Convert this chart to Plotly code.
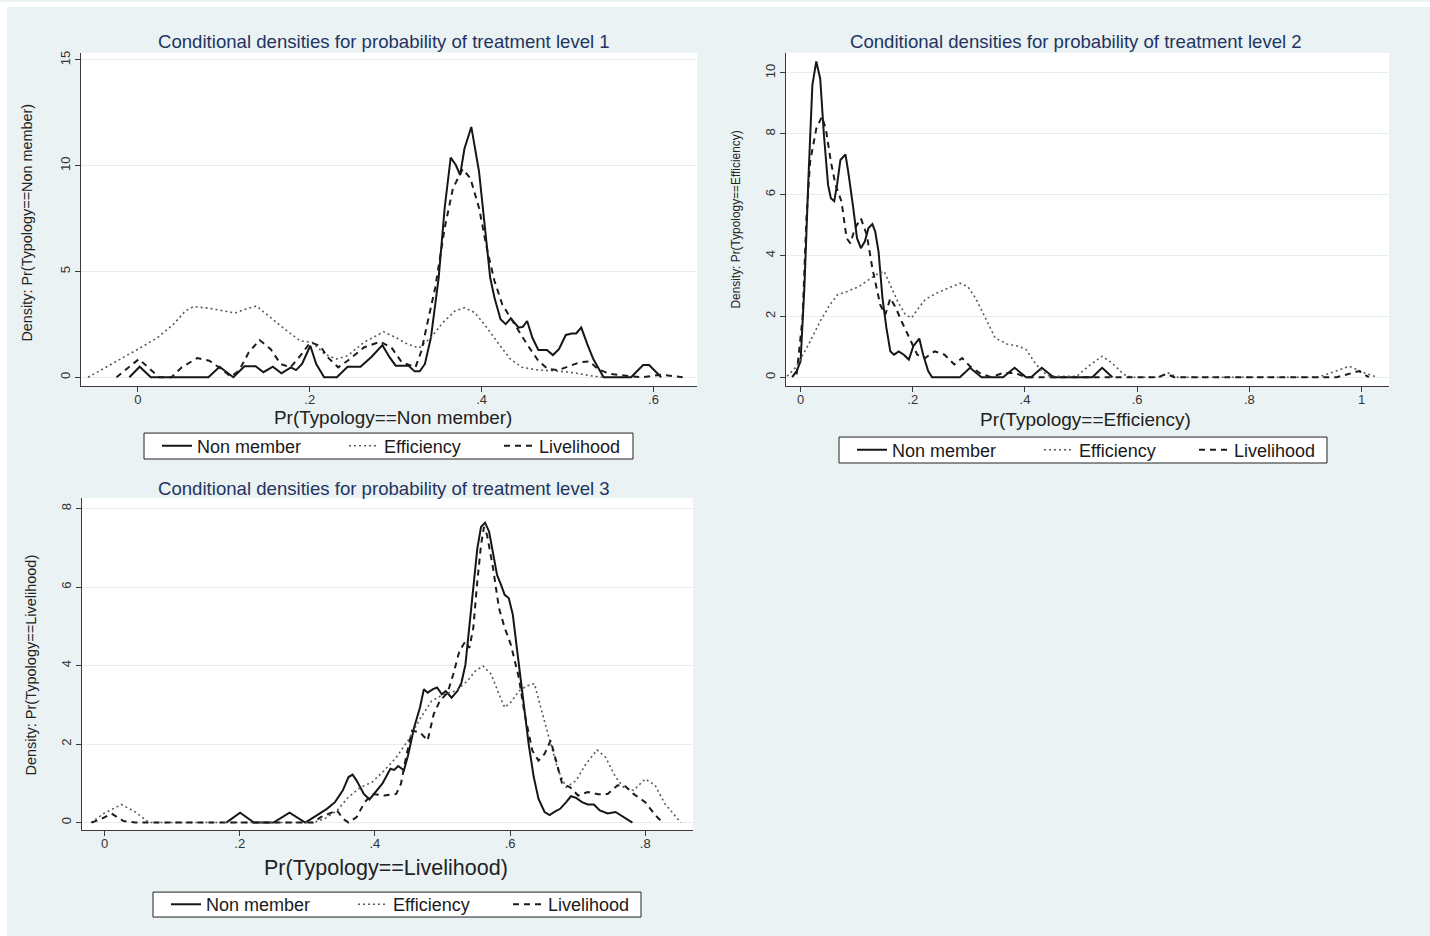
import plotly.graph_objects as go

W, H = 1430, 936
FONT = "Liberation Sans, Arial, sans-serif"

# ---- data: kernel-density curves, (probability, density) pairs ----
level1_non_member = [
    (-0.010, 0), (0.002, 0.5), (0.015, 0), (0.082, 0), (0.095, 0.5), (0.111, 0),
    (0.124, 0.52), (0.137, 0.52), (0.146, 0.24), (0.157, 0.5), (0.167, 0.19),
    (0.178, 0.47), (0.184, 0.34), (0.191, 0.63), (0.2006, 1.49), (0.2075, 0.63),
    (0.2167, 0), (0.2315, 0), (0.244, 0.5), (0.259, 0.5), (0.272, 0.97),
    (0.2845, 1.52), (0.293, 0.94), (0.300, 0.55), (0.315, 0.55), (0.322, 0.28),
    (0.328, 0.28), (0.334, 0.63), (0.341, 1.88), (0.350, 4.7), (0.357, 8.0),
    (0.364, 10.38), (0.370, 10.03), (0.375, 9.56), (0.380, 10.8), (0.388, 11.83),
    (0.397, 9.72), (0.403, 7.37), (0.410, 4.7), (0.415, 3.76), (0.422, 2.74),
    (0.428, 2.51), (0.434, 2.79), (0.443, 2.35), (0.448, 2.38), (0.453, 2.66),
    (0.459, 1.88), (0.466, 1.29), (0.476, 1.29), (0.483, 1.05), (0.490, 1.33),
    (0.498, 2.0), (0.505, 2.07), (0.510, 2.07), (0.516, 2.35), (0.523, 1.57),
    (0.530, 0.86), (0.542, 0), (0.574, 0), (0.588, 0.58), (0.595, 0.58), (0.609, 0),
]
level1_efficiency = [
    (-0.058, 0), (-0.023, 0.78), (0.0, 1.33), (0.023, 1.88), (0.0415, 2.51),
    (0.055, 3.13), (0.0646, 3.34), (0.083, 3.26), (0.101, 3.13), (0.113, 3.04),
    (0.1245, 3.21), (0.138, 3.37), (0.152, 2.9), (0.171, 2.27), (0.189, 1.72),
    (0.203, 1.65), (0.217, 1.1), (0.2306, 0.86), (0.244, 1.02), (0.263, 1.65),
    (0.286, 2.15), (0.300, 1.88), (0.3136, 1.57), (0.327, 1.38), (0.341, 1.88),
    (0.355, 2.59), (0.369, 3.13), (0.380, 3.29), (0.392, 3.06), (0.406, 2.35),
    (0.420, 1.57), (0.4335, 0.86), (0.447, 0.47), (0.466, 0.34), (0.484, 0.31),
    (0.503, 0.24), (0.526, 0.08), (0.540, 0),
]
level1_livelihood = [
    (-0.025, 0), (-0.0115, 0.47), (0.001, 0.86), (0.014, 0.39), (0.025, 0),
    (0.039, 0), (0.051, 0.47), (0.069, 0.91), (0.083, 0.78), (0.097, 0.39),
    (0.108, 0.03), (0.1176, 0.31), (0.129, 1.18), (0.1416, 1.76), (0.1545, 1.33),
    (0.166, 0.63), (0.1775, 0.47), (0.189, 1.02), (0.2006, 1.65), (0.212, 1.49),
    (0.221, 0.94), (0.233, 0.47), (0.244, 0.78), (0.263, 1.41), (0.282, 1.68),
    (0.295, 1.41), (0.307, 0.71), (0.323, 0.47), (0.330, 1.25), (0.3366, 2.51),
    (0.346, 4.23), (0.357, 7.05), (0.3666, 8.93), (0.378, 9.84), (0.387, 9.4),
    (0.397, 8.0), (0.406, 6.11), (0.415, 4.55), (0.424, 3.45), (0.4335, 2.82),
    (0.443, 2.19), (0.454, 1.49), (0.466, 0.78), (0.477, 0.39), (0.489, 0.34),
    (0.503, 0.55), (0.5145, 0.71), (0.526, 0.75), (0.535, 0.39), (0.549, 0.16),
    (0.567, 0.08), (0.5857, 0), (0.609, 0.12), (0.634, 0),
]

level2_non_member = [
    (-0.015, 0), (-0.007, 0.2), (0.0, 0.52), (0.007, 3.04), (0.014, 6.54),
    (0.021, 9.6), (0.028, 10.38), (0.035, 9.81), (0.0416, 7.96), (0.049, 6.32),
    (0.054, 5.88), (0.060, 5.79), (0.065, 6.32), (0.071, 7.14), (0.080, 7.32),
    (0.085, 6.75), (0.094, 5.55), (0.1006, 4.57), (0.1075, 4.24), (0.1145, 4.46),
    (0.121, 4.9), (0.128, 5.03), (0.133, 4.79), (0.139, 4.13), (0.146, 2.6),
    (0.153, 1.62), (0.160, 0.85), (0.1665, 0.74), (0.175, 0.85), (0.184, 0.74),
    (0.193, 0.58), (0.201, 1.02), (0.2116, 1.27), (0.2185, 0.74), (0.2275, 0.2),
    (0.2345, 0), (0.284, 0), (0.302, 0.31), (0.3226, 0), (0.361, 0),
    (0.3815, 0.31), (0.402, 0), (0.411, 0), (0.430, 0.31), (0.451, 0),
    (0.520, 0), (0.5376, 0.31), (0.556, 0),
]
level2_efficiency = [
    (-0.024, 0.03), (-0.007, 0.36), (0.014, 1.07), (0.035, 1.84), (0.052, 2.38),
    (0.066, 2.71), (0.083, 2.82), (0.104, 2.98), (0.121, 3.2), (0.139, 3.42),
    (0.149, 3.48), (0.160, 3.04), (0.173, 2.49), (0.187, 2.05), (0.198, 1.95),
    (0.208, 2.22), (0.222, 2.55), (0.243, 2.77), (0.2636, 2.93), (0.2844, 3.09),
    (0.298, 2.98), (0.312, 2.6), (0.3295, 1.95), (0.347, 1.29), (0.368, 1.09),
    (0.3885, 1.02), (0.402, 0.91), (0.416, 0.52), (0.430, 0.2), (0.444, 0.03),
    (0.4925, 0.03), (0.513, 0.36), (0.5376, 0.69), (0.555, 0.47), (0.576, 0.09),
    (0.590, 0), (0.638, 0), (0.6555, 0.14), (0.673, 0), (0.9226, 0),
    (0.950, 0.17), (0.978, 0.36), (1.006, 0.14), (1.027, 0),
]
level2_livelihood = [
    (-0.007, 0.09), (0.0035, 1.95), (0.0104, 5.22), (0.017, 7.08), (0.028, 8.17),
    (0.038, 8.56), (0.045, 8.17), (0.054, 7.08), (0.0624, 6.32), (0.073, 5.77),
    (0.082, 4.57), (0.0888, 4.4), (0.097, 4.9), (0.1075, 5.22), (0.118, 4.68),
    (0.128, 3.58), (0.142, 2.38), (0.151, 2.05), (0.160, 2.6), (0.170, 2.27),
    (0.180, 1.84), (0.194, 1.29), (0.208, 0.74), (0.222, 0.63), (0.239, 0.85),
    (0.2567, 0.74), (0.274, 0.42), (0.288, 0.63), (0.302, 0.36), (0.319, 0.14),
    (0.340, 0), (0.361, 0.14), (0.3815, 0.14), (0.402, 0), (0.638, 0),
    (0.652, 0.11), (0.666, 0), (0.956, 0), (0.978, 0.11), (0.9955, 0.2),
    (1.013, 0),
]

level3_non_member = [
    (0.180, 0), (0.2006, 0.25), (0.221, 0), (0.250, 0), (0.2737, 0.25),
    (0.297, 0), (0.3146, 0.19), (0.329, 0.35), (0.341, 0.52), (0.3526, 0.82),
    (0.361, 1.16), (0.367, 1.22), (0.373, 1.07), (0.3836, 0.73), (0.392, 0.59),
    (0.399, 0.73), (0.411, 0.99), (0.423, 1.37), (0.4286, 1.34), (0.4345, 1.44),
    (0.443, 1.33), (0.449, 1.71), (0.458, 2.42), (0.4667, 2.93), (0.4725, 3.40),
    (0.478, 3.31), (0.486, 3.40), (0.492, 3.44), (0.499, 3.27), (0.5047, 3.35),
    (0.5135, 3.18), (0.522, 3.35), (0.528, 3.56), (0.534, 4.03), (0.5398, 4.96),
    (0.5456, 6.06), (0.5515, 6.98), (0.557, 7.53), (0.563, 7.64), (0.569, 7.41),
    (0.5748, 6.9), (0.5807, 6.31), (0.5865, 6.06), (0.592, 5.8), (0.598, 5.72),
    (0.604, 5.3), (0.610, 4.45), (0.6187, 3.18), (0.6275, 2.0), (0.635, 1.16),
    (0.642, 0.61), (0.651, 0.27), (0.6585, 0.19), (0.6655, 0.27), (0.674, 0.35),
    (0.683, 0.52), (0.690, 0.67), (0.6977, 0.63), (0.7064, 0.52), (0.715, 0.46),
    (0.724, 0.46), (0.7327, 0.31), (0.7444, 0.23), (0.756, 0.27), (0.768, 0.13),
    (0.781, 0),
]
level3_efficiency = [
    (-0.020, 0), (-0.001, 0.23), (0.025, 0.46), (0.0456, 0.27), (0.066, 0),
    (0.309, 0), (0.326, 0.1), (0.344, 0.31), (0.361, 0.65), (0.379, 0.9),
    (0.396, 1.03), (0.414, 1.33), (0.4316, 1.66), (0.449, 2.09), (0.4667, 2.64),
    (0.484, 3.1), (0.502, 3.27), (0.519, 3.35), (0.537, 3.61), (0.5485, 3.86),
    (0.560, 3.99), (0.572, 3.78), (0.5836, 3.27), (0.592, 2.93), (0.601, 3.06),
    (0.613, 3.35), (0.6245, 3.48), (0.636, 3.54), (0.648, 2.76), (0.660, 2.0),
    (0.671, 1.33), (0.683, 0.9), (0.6977, 1.07), (0.712, 1.49), (0.7287, 1.85),
    (0.7415, 1.66), (0.756, 1.16), (0.768, 0.9), (0.7825, 0.82), (0.800, 1.11),
    (0.8146, 0.95), (0.829, 0.48), (0.8526, 0),
]
level3_livelihood = [
    (-0.019, 0), (-0.004, 0.1), (0.0105, 0.23), (0.028, 0.04), (0.0456, 0),
    (0.309, 0), (0.320, 0.14), (0.332, 0.23), (0.344, 0.31), (0.3526, 0.1),
    (0.361, 0), (0.373, 0.14), (0.385, 0.52), (0.3965, 0.73), (0.414, 0.69),
    (0.4316, 0.73), (0.4386, 0.99), (0.446, 1.66), (0.455, 2.34), (0.4667, 2.3),
    (0.478, 2.09), (0.487, 2.76), (0.496, 3.1), (0.5076, 3.31), (0.516, 3.78),
    (0.525, 4.37), (0.534, 4.62), (0.5398, 4.45), (0.5456, 4.96), (0.5515, 6.14),
    (0.557, 7.07), (0.5614, 7.53), (0.566, 7.32), (0.5748, 6.48), (0.5836, 5.46),
    (0.592, 4.96), (0.601, 4.54), (0.613, 3.69), (0.6216, 2.76), (0.633, 1.83),
    (0.642, 1.58), (0.651, 1.75), (0.660, 2.09), (0.668, 1.58), (0.677, 0.99),
    (0.6889, 0.9), (0.7006, 0.69), (0.715, 0.78), (0.730, 0.72), (0.7444, 0.73),
    (0.759, 0.95), (0.7707, 0.92), (0.7825, 0.73), (0.800, 0.52), (0.8146, 0.19),
    (0.826, 0),
]

series_names = ["Non member", "Efficiency", "Livelihood"]
panel_titles = [
    "Conditional densities for probability of treatment level 1",
    "Conditional densities for probability of treatment level 2",
    "Conditional densities for probability of treatment level 3",
]
x_titles = ["Pr(Typology==Non member)", "Pr(Typology==Efficiency)", "Pr(Typology==Livelihood)"]
y_titles = [
    "Density: Pr(Typology==Non member)",
    "Density: Pr(Typology==Efficiency)",
    "Density: Pr(Typology==Livelihood)",
]
x_tickvals = [[0, 0.2, 0.4, 0.6], [0, 0.2, 0.4, 0.6, 0.8, 1], [0, 0.2, 0.4, 0.6, 0.8]]
x_ticktext = [["0", ".2", ".4", ".6"], ["0", ".2", ".4", ".6", ".8", "1"], ["0", ".2", ".4", ".6", ".8"]]
y_tickvals = [[0, 5, 10, 15], [0, 2, 4, 6, 8, 10], [0, 2, 4, 6, 8]]

panels = [
    [level1_non_member, level1_efficiency, level1_livelihood],
    [level2_non_member, level2_efficiency, level2_livelihood],
    [level3_non_member, level3_efficiency, level3_livelihood],
]

# ---- styling / layout (pixel geometry) ----
line_styles = [
    dict(color="#161616", width=2.0),
    dict(color="#5a5a5a", width=1.6, dash="2px,3px"),
    dict(color="#1c1c1c", width=2.0, dash="6px,5px"),
]
legend_widths = [142, 110, 92]

# plot-area boxes: (left, right, top, bottom) in px
boxes = [(81, 697, 51, 385), (786, 1389, 51, 385), (82, 693, 497, 830)]
x_ranges = [[-0.0663, 0.6507], [-0.026, 1.049], [-0.0333, 0.8706]]
y_ranges = [[-0.42, 15.33], [-0.295, 10.66], [-0.195, 8.27]]
title_pos = [(384, 40), (1076, 40), (384, 488)]
xtitle_pos = [(393, 416, 18.9), (1085, 418, 19.0), (386, 868, 21.5)]
ytitle_pos = [(27, 221, 14.4), (736, 218, 11.9), (31, 665, 14.5)]
# legend frames: (left, right, top, bottom) in px
legend_boxes = [(144, 633, 432, 458), (839, 1327, 436, 462), (153, 641, 892, 917)]

def px_x(v):
    return v / W

def px_y(v):
    return 1 - v / H

fig = go.Figure()
annotations = []
shapes = [
    dict(type="rect", xref="paper", yref="paper", x0=0, x1=px_x(7), y0=0, y1=1,
         fillcolor="#ffffff", line=dict(width=0), layer="below"),
    dict(type="rect", xref="paper", yref="paper", x0=0, x1=1, y0=px_y(5), y1=1,
         fillcolor="#ffffff", line=dict(width=0), layer="below"),
]
layout_axes = {}
legends = {}

for p, curves in enumerate(panels):
    sfx = "" if p == 0 else str(p + 1)
    legend_name = "legend" if p == 0 else f"legend{p + 1}"
    for s, pts in enumerate(curves):
        fig.add_trace(go.Scatter(
            x=[a for a, _ in pts],
            y=[b for _, b in pts],
            mode="lines",
            name=series_names[s],
            line=line_styles[s],
            xaxis="x" + sfx,
            yaxis="y" + sfx,
            legend=legend_name,
            legendwidth=legend_widths[s],
            hoverinfo="skip",
        ))

    l, r, t, b = boxes[p]
    layout_axes["xaxis" + sfx] = dict(
        domain=[px_x(l), px_x(r)], range=x_ranges[p], anchor="y" + sfx,
        showgrid=False, zeroline=False, showline=True, linecolor="#3a3a3a", linewidth=1,
        ticks="outside", ticklen=5, tickcolor="#3a3a3a", tickwidth=1,
        tickvals=x_tickvals[p], ticktext=x_ticktext[p], ticklabelstandoff=-4,
        tickfont=dict(family=FONT, size=13, color="#333333"),
        fixedrange=True,
    )
    layout_axes["yaxis" + sfx] = dict(
        domain=[px_y(b), px_y(t)], range=y_ranges[p], anchor="x" + sfx,
        showgrid=True, gridcolor="#e4eef1", gridwidth=1,
        zeroline=False, showline=True, linecolor="#3a3a3a", linewidth=1,
        ticks="outside", ticklen=5, tickcolor="#3a3a3a", tickwidth=1,
        tickvals=y_tickvals[p], ticktext=[str(v) for v in y_tickvals[p]],
        tickangle=-90, tickfont=dict(family=FONT, size=13, color="#333333"),
        fixedrange=True,
    )

    tx, ty = title_pos[p]
    annotations.append(dict(
        text=panel_titles[p], x=px_x(tx), y=px_y(ty), xref="paper", yref="paper",
        showarrow=False, xanchor="center", yanchor="middle",
        font=dict(family=FONT, size=18.6, color="#1f3462"),
    ))
    xx, xy, xs = xtitle_pos[p]
    annotations.append(dict(
        text=x_titles[p], x=px_x(xx), y=px_y(xy), xref="paper", yref="paper",
        showarrow=False, xanchor="center", yanchor="middle",
        font=dict(family=FONT, size=xs, color="#222222"),
    ))
    yx, yy, ys = ytitle_pos[p]
    annotations.append(dict(
        text=y_titles[p], x=px_x(yx), y=px_y(yy), xref="paper", yref="paper",
        showarrow=False, xanchor="center", yanchor="middle", textangle=-90,
        font=dict(family=FONT, size=ys, color="#222222"),
    ))

    # legend frame plus horizontal legend inside it
    bl, br, bt, bb = legend_boxes[p]
    shapes.append(dict(
        type="rect", xref="paper", yref="paper",
        x0=px_x(bl), x1=px_x(br), y0=px_y(bb), y1=px_y(bt),
        fillcolor="#ffffff", line=dict(color="#222222", width=1), layer="below",
    ))
    legends[legend_name] = dict(
        x=px_x(bl + 13), y=px_y((bt + bb) / 2), xref="paper", yref="paper",
        xanchor="left", yanchor="middle", orientation="h",
        bgcolor="rgba(0,0,0,0)", borderwidth=0,
        font=dict(family=FONT, size=18, color="#1a1a1a"),
        itemclick=False, itemdoubleclick=False,
    )

fig.update_layout(
    width=W, height=H, margin=dict(l=0, r=0, t=0, b=0),
    paper_bgcolor="#eaf2f3", plot_bgcolor="#ffffff",
    font=dict(family=FONT),
    showlegend=True,
    annotations=annotations,
    shapes=shapes,
    **layout_axes,
    **legends,
)

fig.write_html("out.html")
